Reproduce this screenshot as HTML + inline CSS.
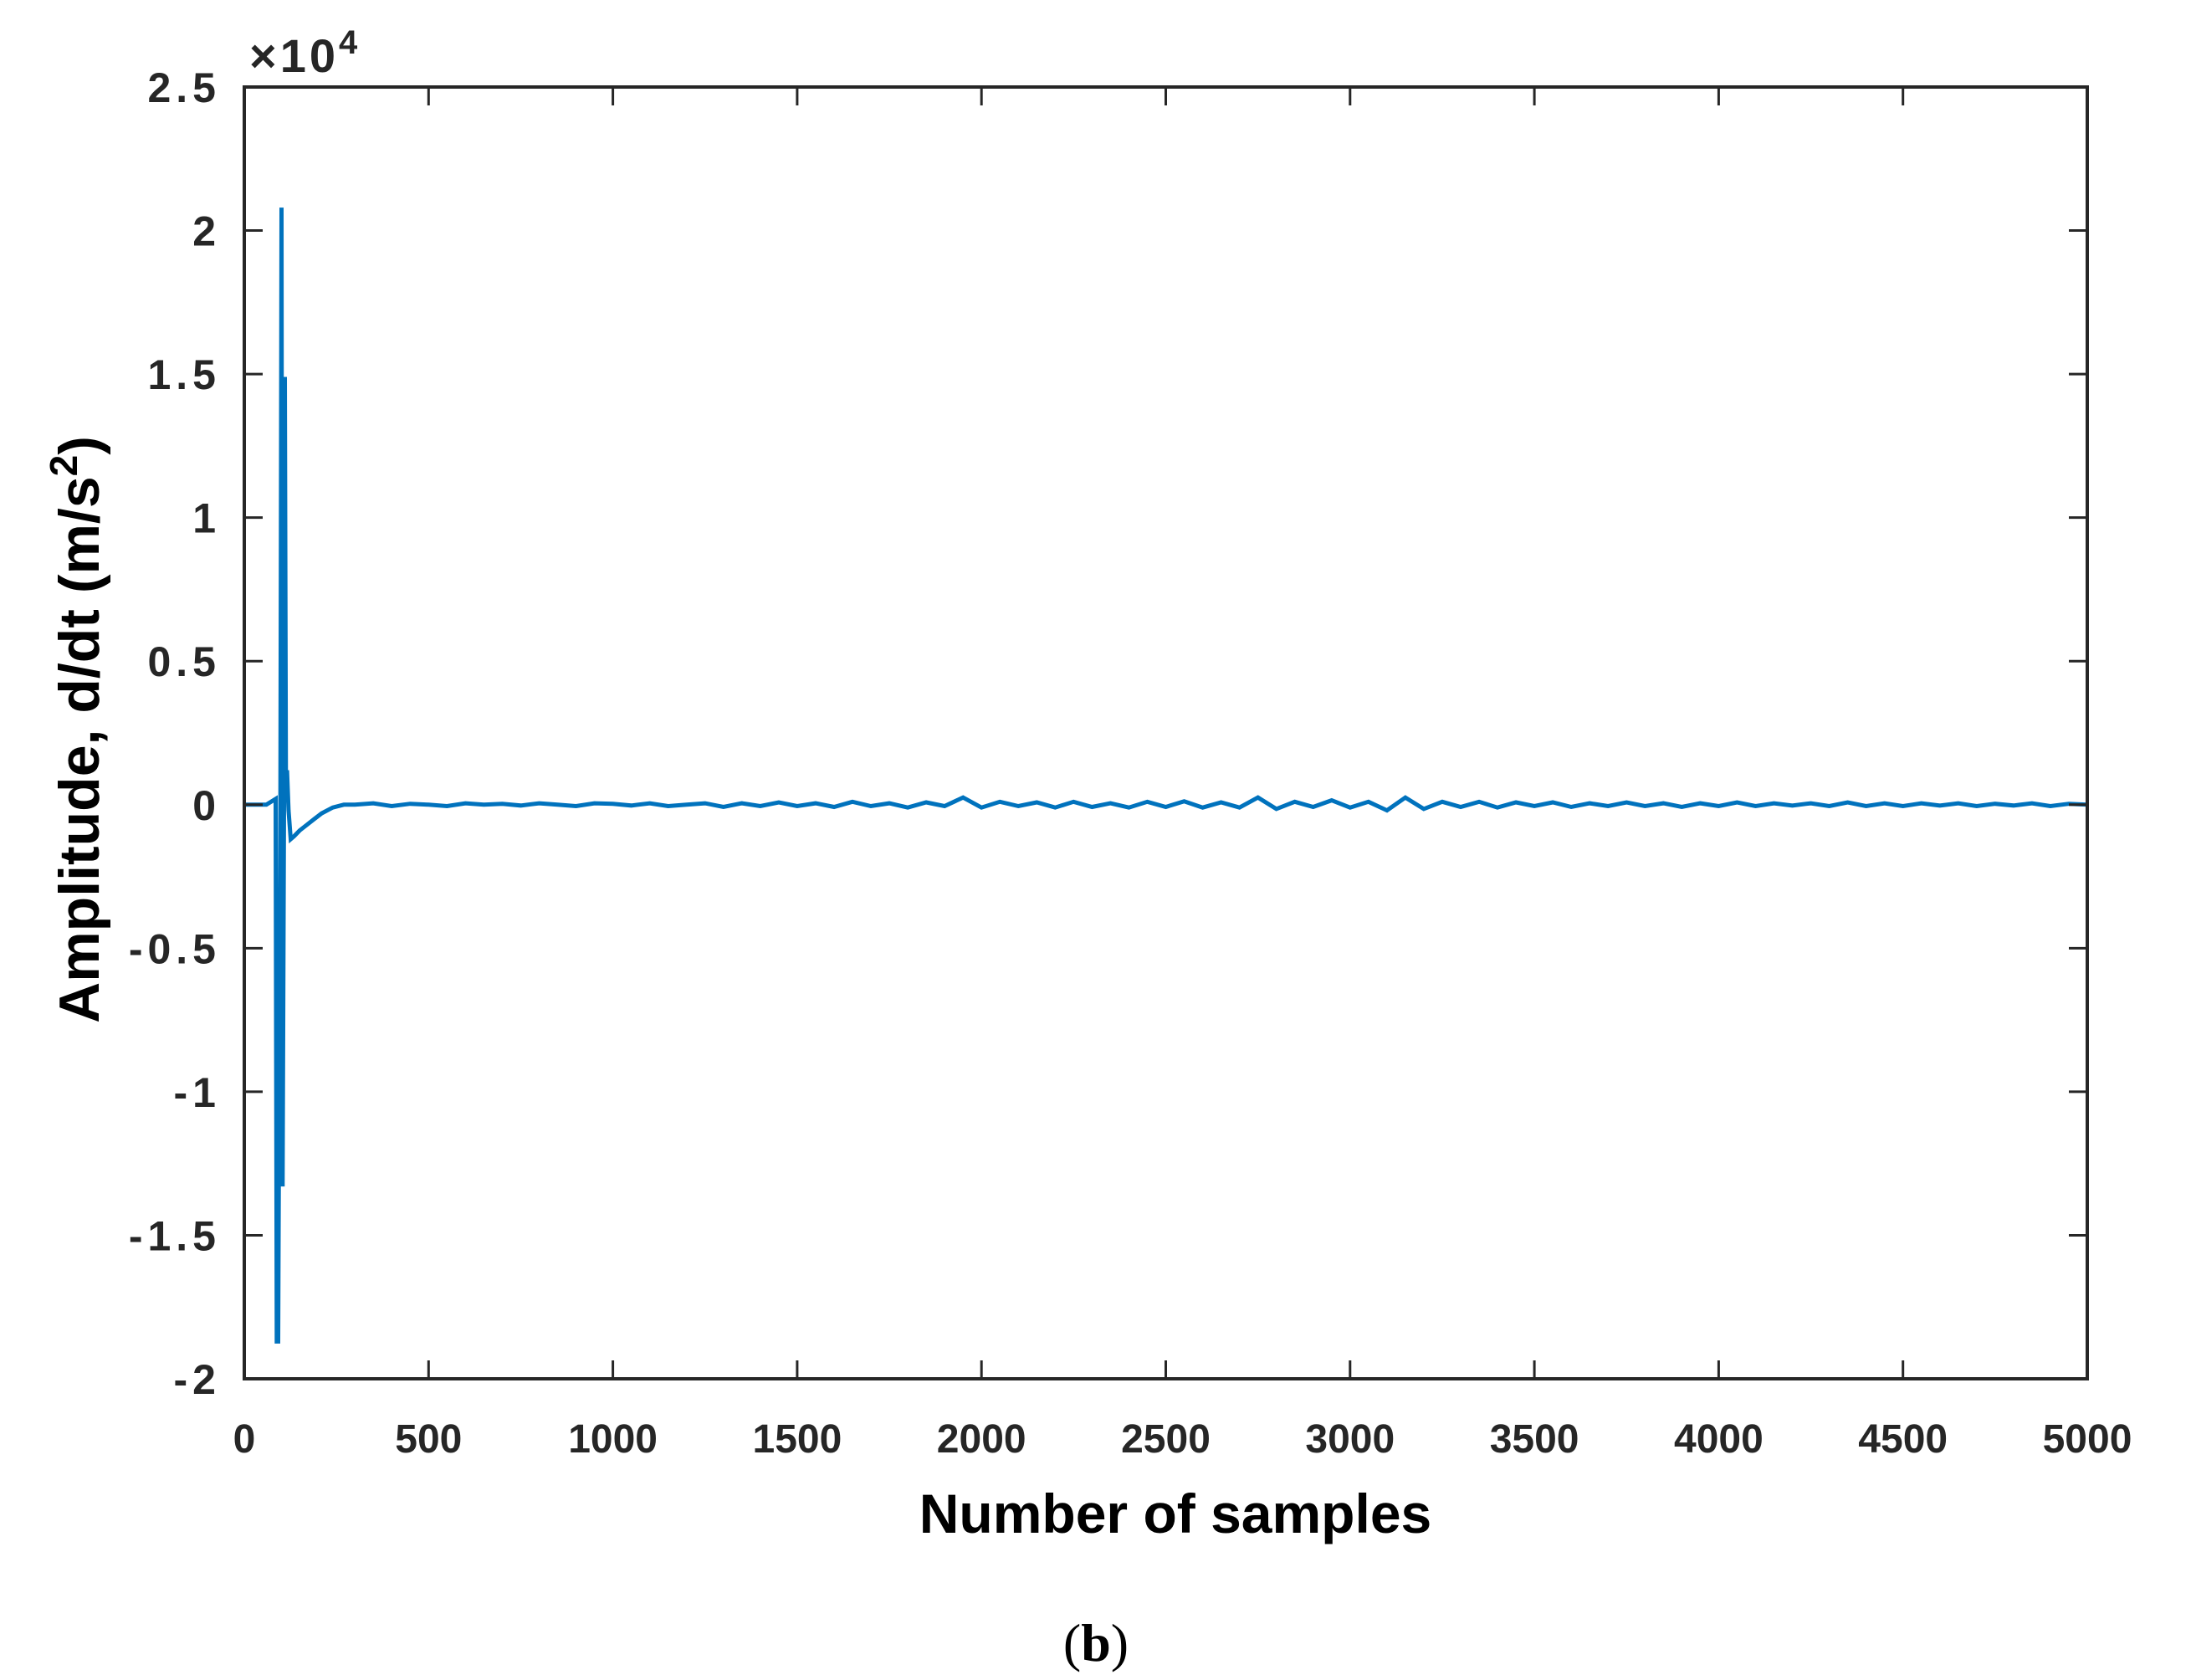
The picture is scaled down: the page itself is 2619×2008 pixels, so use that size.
<!DOCTYPE html>
<html><head><meta charset="utf-8"><style>
html,body{margin:0;padding:0;background:#fff;width:2619px;height:2008px;overflow:hidden;position:relative}
svg{display:block}
text{font-family:"Liberation Sans",sans-serif}
</style></head><body>
<svg id="chart" width="2619" height="2008">
<g id="plot"></g>
</svg>
<script>
const xTicks=[0,500,1000,1500,2000,2500,3000,3500,4000,4500,5000];
const yTicks=[-2,-1.5,-1,-0.5,0,0.5,1,1.5,2,2.5];
const yTickLabels=["-2","-1.5","-1","-0.5","0","0.5","1","1.5","2","2.5"];
const transientX=[0,60,85,88,92,98,101,104,108,110,113,116,120,126,135,150,170,190,210,240,270,300];
const transientY=[0,0,0.02,-1.87,-1.87,0.05,2.08,-1.33,0.08,1.49,0.06,0.12,-0.02,-0.12,-0.11,-0.09,-0.07,-0.05,-0.03,-0.01,0,0];
const noiseY=[0,0.005,-0.005,0.003,0,-0.005,0.005,0,0.003,-0.003,0.005,0,-0.005,0.005,0.003,-0.003,0.005,-0.005,0,0.005,-0.008,0.005,-0.005,0.008,-0.005,0.005,-0.008,0.01,-0.005,0.005,-0.01,0.008,-0.005,0.025,-0.01,0.01,-0.005,0.008,-0.01,0.01,-0.008,0.005,-0.01,0.01,-0.008,0.012,-0.01,0.008,-0.01,0.025,-0.015,0.01,-0.008,0.015,-0.01,0.01,-0.02,0.025,-0.015,0.01,-0.008,0.01,-0.01,0.008,-0.005,0.008,-0.008,0.005,-0.005,0.008,-0.005,0.005,-0.008,0.005,-0.005,0.008,-0.005,0.005,-0.003,0.005,-0.005,0.008,-0.005,0.005,-0.005,0.005,-0.003,0.005,-0.005,0.003,-0.003,0.005,-0.005,0.003,0];
const NS="http://www.w3.org/2000/svg";
const L=292,R=2495,T=104,B=1648;
const xs=v=>L+(v-0)/(5000-0)*(R-L);
const ys=v=>B-(v-(-2))/(2.5-(-2))*(B-T);
const g=document.getElementById('plot');
function mk(tag,attrs){const e=document.createElementNS(NS,tag);for(const k in attrs)e.setAttribute(k,attrs[k]);g.appendChild(e);return e;}
let pts=[];
for(let i=0;i<transientX.length;i++)pts.push(xs(transientX[i]).toFixed(1)+","+ys(transientY[i]).toFixed(1));
const step=(5000-300)/(noiseY.length-1);
for(let i=0;i<noiseY.length;i++)pts.push(xs(300+i*step).toFixed(1)+","+ys(noiseY[i]).toFixed(1));
const line=mk('polyline',{points:pts.join(' '),fill:'none',stroke:'#0072BD','stroke-width':5,'stroke-linejoin':'miter'});


const box=mk('rect',{x:L,y:T,width:R-L,height:B-T,fill:'none',stroke:'#262626','stroke-width':4});


xTicks.forEach(v=>{
  const x=xs(v);
  mk('line',{x1:x,y1:B,x2:x,y2:B-22,stroke:'#262626','stroke-width':3});
  mk('line',{x1:x,y1:T,x2:x,y2:T+22,stroke:'#262626','stroke-width':3});
  const t=mk('text',{x:x,y:1736,'text-anchor':'middle','font-size':48,'font-weight':'bold',fill:'#262626'});
  t.textContent=String(v);
  
  
});
yTicks.forEach((v,i)=>{
  const y=ys(v);
  mk('line',{x1:L,y1:y,x2:L+22,y2:y,stroke:'#262626','stroke-width':3});
  mk('line',{x1:R,y1:y,x2:R-22,y2:y,stroke:'#262626','stroke-width':3});
  const t=mk('text',{x:264,y:y+18,'text-anchor':'end','font-size':50,'font-weight':'bold',fill:'#262626','letter-spacing':6});
  t.textContent=yTickLabels[i];
  
  
});
</script>
<svg style="position:absolute;left:0;top:0" width="2619" height="2008">
<text x="298" y="86" font-size="56" font-weight="bold" fill="#262626" letter-spacing="4">×10<tspan dy="-22" font-size="40">4</tspan></text>
<text x="1405" y="1832" text-anchor="middle" font-size="66" font-weight="bold" fill="#000">Number of samples</text>
<text transform="translate(118,872) rotate(-90)" text-anchor="middle" font-size="68" font-weight="bold" fill="#000">Amplitude, d/dt (m/s<tspan dy="-26" font-size="46">2</tspan><tspan dy="26">)</tspan></text>
<text x="1310" y="1985" text-anchor="middle" font-size="64" style="font-family:'Liberation Serif',serif" fill="#000">(<tspan font-weight="bold">b</tspan>)</text>
</svg>
</body></html>
